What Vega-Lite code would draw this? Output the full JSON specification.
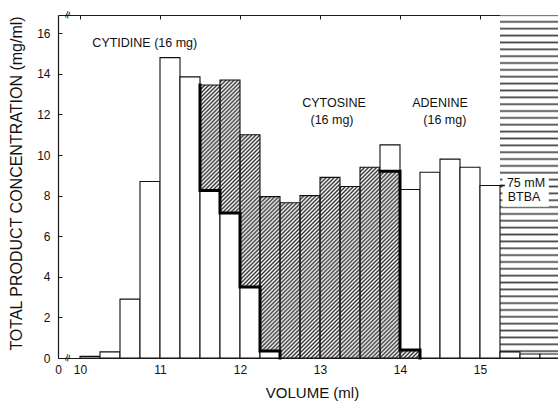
{
  "$schema": "https://vega.github.io/schema/vega-lite/v6.json",
  "width": 500,
  "height": 343,
  "autosize": {"type": "none"},
  "padding": {"left": 58, "top": 15, "right": 0, "bottom": 43},
  "background": "white",
  "config": {
    "view": {"stroke": null},
    "font": "Liberation Sans",
    "axis": {
      "labelFont": "Liberation Sans",
      "titleFont": "Liberation Sans",
      "labelColor": "#111",
      "titleColor": "#111",
      "domainColor": "#1a1a1a",
      "tickColor": "#1a1a1a",
      "grid": false,
      "zindex": 1,
      "labelFontSize": 12,
      "titleFontWeight": "normal"
    }
  },
  "datasets": {
    "fractions": [
      {"start": 10.0, "end": 10.25, "product": "Cytidine", "from": 0, "to": 0.08},
      {"start": 10.25, "end": 10.5, "product": "Cytidine", "from": 0, "to": 0.3},
      {"start": 10.5, "end": 10.75, "product": "Cytidine", "from": 0, "to": 2.9},
      {"start": 10.75, "end": 11.0, "product": "Cytidine", "from": 0, "to": 8.7},
      {"start": 11.0, "end": 11.25, "product": "Cytidine", "from": 0, "to": 14.8},
      {"start": 11.25, "end": 11.5, "product": "Cytidine", "from": 0, "to": 13.85},
      {"start": 11.5, "end": 11.75, "product": "Cytidine", "from": 0, "to": 8.25},
      {"start": 11.5, "end": 11.75, "product": "Cytosine", "from": 8.25, "to": 13.45},
      {"start": 11.75, "end": 12.0, "product": "Cytidine", "from": 0, "to": 7.15},
      {"start": 11.75, "end": 12.0, "product": "Cytosine", "from": 7.15, "to": 13.7},
      {"start": 12.0, "end": 12.25, "product": "Cytidine", "from": 0, "to": 3.5},
      {"start": 12.0, "end": 12.25, "product": "Cytosine", "from": 3.5, "to": 11.0},
      {"start": 12.25, "end": 12.5, "product": "Cytidine", "from": 0, "to": 0.35},
      {"start": 12.25, "end": 12.5, "product": "Cytosine", "from": 0.35, "to": 7.95},
      {"start": 12.5, "end": 12.75, "product": "Cytosine", "from": 0, "to": 7.65},
      {"start": 12.75, "end": 13.0, "product": "Cytosine", "from": 0, "to": 8.0},
      {"start": 13.0, "end": 13.25, "product": "Cytosine", "from": 0, "to": 8.9},
      {"start": 13.25, "end": 13.5, "product": "Cytosine", "from": 0, "to": 8.45},
      {"start": 13.5, "end": 13.75, "product": "Cytosine", "from": 0, "to": 9.4},
      {"start": 13.75, "end": 14.0, "product": "Cytosine", "from": 0, "to": 9.2},
      {"start": 13.75, "end": 14.0, "product": "Adenine", "from": 9.2, "to": 10.5},
      {"start": 14.0, "end": 14.25, "product": "Cytosine", "from": 0, "to": 0.4},
      {"start": 14.0, "end": 14.25, "product": "Adenine", "from": 0.4, "to": 8.3},
      {"start": 14.25, "end": 14.5, "product": "Adenine", "from": 0, "to": 9.15},
      {"start": 14.5, "end": 14.75, "product": "Adenine", "from": 0, "to": 9.8},
      {"start": 14.75, "end": 15.0, "product": "Adenine", "from": 0, "to": 9.4},
      {"start": 15.0, "end": 15.25, "product": "Adenine", "from": 0, "to": 8.5},
      {"start": 15.25, "end": 15.5, "product": "Adenine", "from": 0, "to": 0.3},
      {"start": 15.5, "end": 15.75, "product": "Adenine", "from": 0, "to": 0.2},
      {"start": 15.75, "end": 16.0, "product": "Adenine", "from": 0, "to": 0.2}
    ],
    "zones": [
      {"zone": "Cytosine", "start": 11.5, "end": 14.25, "from": 0, "to": 14},
      {"zone": "BTBA", "start": 15.25, "end": 16.0, "from": 0, "to": 16.9}
    ],
    "boundary": [
      {"path": "A", "step": 1, "volume": 11.5, "conc": 13.45},
      {"path": "A", "step": 2, "volume": 11.5, "conc": 8.25},
      {"path": "A", "step": 3, "volume": 11.75, "conc": 8.25},
      {"path": "A", "step": 4, "volume": 11.75, "conc": 7.15},
      {"path": "A", "step": 5, "volume": 12.0, "conc": 7.15},
      {"path": "A", "step": 6, "volume": 12.0, "conc": 3.5},
      {"path": "A", "step": 7, "volume": 12.25, "conc": 3.5},
      {"path": "A", "step": 8, "volume": 12.25, "conc": 0.35},
      {"path": "A", "step": 9, "volume": 12.5, "conc": 0.35},
      {"path": "A", "step": 10, "volume": 12.5, "conc": 0},
      {"path": "B", "step": 1, "volume": 13.75, "conc": 9.2},
      {"path": "B", "step": 2, "volume": 14.0, "conc": 9.2},
      {"path": "B", "step": 3, "volume": 14.0, "conc": 0.4},
      {"path": "B", "step": 4, "volume": 14.25, "conc": 0.4},
      {"path": "B", "step": 5, "volume": 14.25, "conc": 0}
    ],
    "labelbox": [
      {"start": 15.28, "end": 15.86, "from": 7.45, "to": 9.0}
    ],
    "leader": [
      {"start": 15.25, "end": 15.31, "level": 8.5}
    ],
    "labels": [
      {"text": "CYTIDINE (16 mg)", "volume": 10.81, "conc": 15.52},
      {"text": "CYTOSINE", "volume": 13.175, "conc": 12.56},
      {"text": "(16 mg)", "volume": 13.15, "conc": 11.72},
      {"text": "ADENINE", "volume": 14.5, "conc": 12.56},
      {"text": "(16 mg)", "volume": 14.56, "conc": 11.72},
      {"text": "75 mM", "volume": 15.575, "conc": 8.62},
      {"text": "BTBA", "volume": 15.55, "conc": 7.93}
    ],
    "breaks": [
      {"volume": 9.85, "conc": 0},
      {"volume": 9.85, "conc": 16.9}
    ]
  },
  "resolve": {"axis": {"x": "independent", "y": "independent"}},
  "layer": [
    {
      "data": {"name": "zones"},
      "transform": [{"filter": "datum.zone === 'BTBA'"}],
      "mark": {
        "type": "rect",
        "clip": true,
        "strokeWidth": 0,
        "fill": {
          "gradient": "linear", "x1": 0, "y1": 0, "x2": 0, "y2": 1,
          "stops": [
            {"offset": 0, "color": "#444"}, {"offset": 0.005, "color": "#fff"}, {"offset": 0.015, "color": "#fff"},
            {"offset": 0.02, "color": "#444"}, {"offset": 0.025, "color": "#fff"}, {"offset": 0.035, "color": "#fff"},
            {"offset": 0.04, "color": "#444"}, {"offset": 0.045, "color": "#fff"}, {"offset": 0.055, "color": "#fff"},
            {"offset": 0.06, "color": "#444"}, {"offset": 0.065, "color": "#fff"}, {"offset": 0.075, "color": "#fff"},
            {"offset": 0.08, "color": "#444"}, {"offset": 0.085, "color": "#fff"}, {"offset": 0.095, "color": "#fff"},
            {"offset": 0.1, "color": "#444"}, {"offset": 0.105, "color": "#fff"}, {"offset": 0.115, "color": "#fff"},
            {"offset": 0.12, "color": "#444"}, {"offset": 0.125, "color": "#fff"}, {"offset": 0.135, "color": "#fff"},
            {"offset": 0.14, "color": "#444"}, {"offset": 0.145, "color": "#fff"}, {"offset": 0.155, "color": "#fff"},
            {"offset": 0.16, "color": "#444"}, {"offset": 0.165, "color": "#fff"}, {"offset": 0.175, "color": "#fff"},
            {"offset": 0.18, "color": "#444"}, {"offset": 0.185, "color": "#fff"}, {"offset": 0.195, "color": "#fff"},
            {"offset": 0.2, "color": "#444"}, {"offset": 0.205, "color": "#fff"}, {"offset": 0.215, "color": "#fff"},
            {"offset": 0.22, "color": "#444"}, {"offset": 0.225, "color": "#fff"}, {"offset": 0.235, "color": "#fff"},
            {"offset": 0.24, "color": "#444"}, {"offset": 0.245, "color": "#fff"}, {"offset": 0.255, "color": "#fff"},
            {"offset": 0.26, "color": "#444"}, {"offset": 0.265, "color": "#fff"}, {"offset": 0.275, "color": "#fff"},
            {"offset": 0.28, "color": "#444"}, {"offset": 0.285, "color": "#fff"}, {"offset": 0.295, "color": "#fff"},
            {"offset": 0.3, "color": "#444"}, {"offset": 0.305, "color": "#fff"}, {"offset": 0.315, "color": "#fff"},
            {"offset": 0.32, "color": "#444"}, {"offset": 0.325, "color": "#fff"}, {"offset": 0.335, "color": "#fff"},
            {"offset": 0.34, "color": "#444"}, {"offset": 0.345, "color": "#fff"}, {"offset": 0.355, "color": "#fff"},
            {"offset": 0.36, "color": "#444"}, {"offset": 0.365, "color": "#fff"}, {"offset": 0.375, "color": "#fff"},
            {"offset": 0.38, "color": "#444"}, {"offset": 0.385, "color": "#fff"}, {"offset": 0.395, "color": "#fff"},
            {"offset": 0.4, "color": "#444"}, {"offset": 0.405, "color": "#fff"}, {"offset": 0.415, "color": "#fff"},
            {"offset": 0.42, "color": "#444"}, {"offset": 0.425, "color": "#fff"}, {"offset": 0.435, "color": "#fff"},
            {"offset": 0.44, "color": "#444"}, {"offset": 0.445, "color": "#fff"}, {"offset": 0.455, "color": "#fff"},
            {"offset": 0.46, "color": "#444"}, {"offset": 0.465, "color": "#fff"}, {"offset": 0.475, "color": "#fff"},
            {"offset": 0.48, "color": "#444"}, {"offset": 0.485, "color": "#fff"}, {"offset": 0.495, "color": "#fff"},
            {"offset": 0.5, "color": "#444"}, {"offset": 0.505, "color": "#fff"}, {"offset": 0.515, "color": "#fff"},
            {"offset": 0.52, "color": "#444"}, {"offset": 0.525, "color": "#fff"}, {"offset": 0.535, "color": "#fff"},
            {"offset": 0.54, "color": "#444"}, {"offset": 0.545, "color": "#fff"}, {"offset": 0.555, "color": "#fff"},
            {"offset": 0.56, "color": "#444"}, {"offset": 0.565, "color": "#fff"}, {"offset": 0.575, "color": "#fff"},
            {"offset": 0.58, "color": "#444"}, {"offset": 0.585, "color": "#fff"}, {"offset": 0.595, "color": "#fff"},
            {"offset": 0.6, "color": "#444"}, {"offset": 0.605, "color": "#fff"}, {"offset": 0.615, "color": "#fff"},
            {"offset": 0.62, "color": "#444"}, {"offset": 0.625, "color": "#fff"}, {"offset": 0.635, "color": "#fff"},
            {"offset": 0.64, "color": "#444"}, {"offset": 0.645, "color": "#fff"}, {"offset": 0.655, "color": "#fff"},
            {"offset": 0.66, "color": "#444"}, {"offset": 0.665, "color": "#fff"}, {"offset": 0.675, "color": "#fff"},
            {"offset": 0.68, "color": "#444"}, {"offset": 0.685, "color": "#fff"}, {"offset": 0.695, "color": "#fff"},
            {"offset": 0.7, "color": "#444"}, {"offset": 0.705, "color": "#fff"}, {"offset": 0.715, "color": "#fff"},
            {"offset": 0.72, "color": "#444"}, {"offset": 0.725, "color": "#fff"}, {"offset": 0.735, "color": "#fff"},
            {"offset": 0.74, "color": "#444"}, {"offset": 0.745, "color": "#fff"}, {"offset": 0.755, "color": "#fff"},
            {"offset": 0.76, "color": "#444"}, {"offset": 0.765, "color": "#fff"}, {"offset": 0.775, "color": "#fff"},
            {"offset": 0.78, "color": "#444"}, {"offset": 0.785, "color": "#fff"}, {"offset": 0.795, "color": "#fff"},
            {"offset": 0.8, "color": "#444"}, {"offset": 0.805, "color": "#fff"}, {"offset": 0.815, "color": "#fff"},
            {"offset": 0.82, "color": "#444"}, {"offset": 0.825, "color": "#fff"}, {"offset": 0.835, "color": "#fff"},
            {"offset": 0.84, "color": "#444"}, {"offset": 0.845, "color": "#fff"}, {"offset": 0.855, "color": "#fff"},
            {"offset": 0.86, "color": "#444"}, {"offset": 0.865, "color": "#fff"}, {"offset": 0.875, "color": "#fff"},
            {"offset": 0.88, "color": "#444"}, {"offset": 0.885, "color": "#fff"}, {"offset": 0.895, "color": "#fff"},
            {"offset": 0.9, "color": "#444"}, {"offset": 0.905, "color": "#fff"}, {"offset": 0.915, "color": "#fff"},
            {"offset": 0.92, "color": "#444"}, {"offset": 0.925, "color": "#fff"}, {"offset": 0.935, "color": "#fff"},
            {"offset": 0.94, "color": "#444"}, {"offset": 0.945, "color": "#fff"}, {"offset": 0.955, "color": "#fff"},
            {"offset": 0.96, "color": "#444"}, {"offset": 0.965, "color": "#fff"}, {"offset": 0.975, "color": "#fff"},
            {"offset": 0.98, "color": "#444"}, {"offset": 0.985, "color": "#fff"}, {"offset": 0.995, "color": "#fff"},
            {"offset": 1, "color": "#444"}
          ]
        }
      },
      "encoding": {
        "x": {
          "field": "start", "type": "quantitative",
          "scale": {"domain": [9.725, 15.975], "nice": false, "zero": false},
          "axis": {
            "orient": "bottom",
            "values": [9.725, 10, 11, 12, 13, 14, 15],
            "labelExpr": "datum.value < 9.9 ? '0' : datum.label",
            "labelFlush": false,
            "ticks": false,
            "labelPadding": 6,
            "domainWidth": 1.2,
            "title": "VOLUME (ml)",
            "titleFontSize": 15,
            "titleX": 254,
            "titleY": 39,
            "titleAlign": "center",
            "titleBaseline": "alphabetic"
          }
        },
        "x2": {"field": "end"},
        "y": {
          "field": "from", "type": "quantitative",
          "scale": {"domain": [0, 16.9], "nice": false, "zero": false},
          "axis": {
            "orient": "left",
            "values": [0, 2, 4, 6, 8, 10, 12, 14, 16],
            "tickSize": -4,
            "labelPadding": 12,
            "domainWidth": 1.2,
            "title": "TOTAL PRODUCT CONCENTRATION (mg/ml)",
            "titleFontSize": 16,
            "titleAngle": 270,
            "titleX": -42,
            "titleY": 168,
            "titleAlign": "center",
            "titleBaseline": "middle"
          }
        },
        "y2": {"field": "to"}
      }
    },
    {
      "data": {"name": "zones"},
      "transform": [{"filter": "datum.zone === 'Cytosine'"}],
      "mark": {
        "type": "rect",
        "strokeWidth": 0,
        "fill": {
          "gradient": "linear", "x1": 0, "y1": 0, "x2": 0.8587, "y2": 1.1094,
          "stops": [
            {"offset": 0, "color": "#333"}, {"offset": 0.004, "color": "#fff"}, {"offset": 0.008, "color": "#333"}, {"offset": 0.012, "color": "#fff"}, {"offset": 0.016, "color": "#333"}, {"offset": 0.02, "color": "#fff"}, {"offset": 0.024, "color": "#333"}, {"offset": 0.028, "color": "#fff"}, {"offset": 0.032, "color": "#333"}, {"offset": 0.036, "color": "#fff"},
            {"offset": 0.04, "color": "#333"}, {"offset": 0.044, "color": "#fff"}, {"offset": 0.048, "color": "#333"}, {"offset": 0.052, "color": "#fff"}, {"offset": 0.056, "color": "#333"}, {"offset": 0.06, "color": "#fff"}, {"offset": 0.064, "color": "#333"}, {"offset": 0.068, "color": "#fff"}, {"offset": 0.072, "color": "#333"}, {"offset": 0.076, "color": "#fff"},
            {"offset": 0.08, "color": "#333"}, {"offset": 0.084, "color": "#fff"}, {"offset": 0.088, "color": "#333"}, {"offset": 0.092, "color": "#fff"}, {"offset": 0.096, "color": "#333"}, {"offset": 0.1, "color": "#fff"}, {"offset": 0.104, "color": "#333"}, {"offset": 0.108, "color": "#fff"}, {"offset": 0.112, "color": "#333"}, {"offset": 0.116, "color": "#fff"},
            {"offset": 0.12, "color": "#333"}, {"offset": 0.124, "color": "#fff"}, {"offset": 0.128, "color": "#333"}, {"offset": 0.132, "color": "#fff"}, {"offset": 0.136, "color": "#333"}, {"offset": 0.14, "color": "#fff"}, {"offset": 0.144, "color": "#333"}, {"offset": 0.148, "color": "#fff"}, {"offset": 0.152, "color": "#333"}, {"offset": 0.156, "color": "#fff"},
            {"offset": 0.16, "color": "#333"}, {"offset": 0.164, "color": "#fff"}, {"offset": 0.168, "color": "#333"}, {"offset": 0.172, "color": "#fff"}, {"offset": 0.176, "color": "#333"}, {"offset": 0.18, "color": "#fff"}, {"offset": 0.184, "color": "#333"}, {"offset": 0.188, "color": "#fff"}, {"offset": 0.192, "color": "#333"}, {"offset": 0.196, "color": "#fff"},
            {"offset": 0.2, "color": "#333"}, {"offset": 0.204, "color": "#fff"}, {"offset": 0.208, "color": "#333"}, {"offset": 0.212, "color": "#fff"}, {"offset": 0.216, "color": "#333"}, {"offset": 0.22, "color": "#fff"}, {"offset": 0.224, "color": "#333"}, {"offset": 0.228, "color": "#fff"}, {"offset": 0.232, "color": "#333"}, {"offset": 0.236, "color": "#fff"},
            {"offset": 0.24, "color": "#333"}, {"offset": 0.244, "color": "#fff"}, {"offset": 0.248, "color": "#333"}, {"offset": 0.252, "color": "#fff"}, {"offset": 0.256, "color": "#333"}, {"offset": 0.26, "color": "#fff"}, {"offset": 0.264, "color": "#333"}, {"offset": 0.268, "color": "#fff"}, {"offset": 0.272, "color": "#333"}, {"offset": 0.276, "color": "#fff"},
            {"offset": 0.28, "color": "#333"}, {"offset": 0.284, "color": "#fff"}, {"offset": 0.288, "color": "#333"}, {"offset": 0.292, "color": "#fff"}, {"offset": 0.296, "color": "#333"}, {"offset": 0.3, "color": "#fff"}, {"offset": 0.304, "color": "#333"}, {"offset": 0.308, "color": "#fff"}, {"offset": 0.312, "color": "#333"}, {"offset": 0.316, "color": "#fff"},
            {"offset": 0.32, "color": "#333"}, {"offset": 0.324, "color": "#fff"}, {"offset": 0.328, "color": "#333"}, {"offset": 0.332, "color": "#fff"}, {"offset": 0.336, "color": "#333"}, {"offset": 0.34, "color": "#fff"}, {"offset": 0.344, "color": "#333"}, {"offset": 0.348, "color": "#fff"}, {"offset": 0.352, "color": "#333"}, {"offset": 0.356, "color": "#fff"},
            {"offset": 0.36, "color": "#333"}, {"offset": 0.364, "color": "#fff"}, {"offset": 0.368, "color": "#333"}, {"offset": 0.372, "color": "#fff"}, {"offset": 0.376, "color": "#333"}, {"offset": 0.38, "color": "#fff"}, {"offset": 0.384, "color": "#333"}, {"offset": 0.388, "color": "#fff"}, {"offset": 0.392, "color": "#333"}, {"offset": 0.396, "color": "#fff"},
            {"offset": 0.4, "color": "#333"}, {"offset": 0.404, "color": "#fff"}, {"offset": 0.408, "color": "#333"}, {"offset": 0.412, "color": "#fff"}, {"offset": 0.416, "color": "#333"}, {"offset": 0.42, "color": "#fff"}, {"offset": 0.424, "color": "#333"}, {"offset": 0.428, "color": "#fff"}, {"offset": 0.432, "color": "#333"}, {"offset": 0.436, "color": "#fff"},
            {"offset": 0.44, "color": "#333"}, {"offset": 0.444, "color": "#fff"}, {"offset": 0.448, "color": "#333"}, {"offset": 0.452, "color": "#fff"}, {"offset": 0.456, "color": "#333"}, {"offset": 0.46, "color": "#fff"}, {"offset": 0.464, "color": "#333"}, {"offset": 0.468, "color": "#fff"}, {"offset": 0.472, "color": "#333"}, {"offset": 0.476, "color": "#fff"},
            {"offset": 0.48, "color": "#333"}, {"offset": 0.484, "color": "#fff"}, {"offset": 0.488, "color": "#333"}, {"offset": 0.492, "color": "#fff"}, {"offset": 0.496, "color": "#333"}, {"offset": 0.5, "color": "#fff"}, {"offset": 0.504, "color": "#333"}, {"offset": 0.508, "color": "#fff"}, {"offset": 0.512, "color": "#333"}, {"offset": 0.516, "color": "#fff"},
            {"offset": 0.52, "color": "#333"}, {"offset": 0.524, "color": "#fff"}, {"offset": 0.528, "color": "#333"}, {"offset": 0.532, "color": "#fff"}, {"offset": 0.536, "color": "#333"}, {"offset": 0.54, "color": "#fff"}, {"offset": 0.544, "color": "#333"}, {"offset": 0.548, "color": "#fff"}, {"offset": 0.552, "color": "#333"}, {"offset": 0.556, "color": "#fff"},
            {"offset": 0.56, "color": "#333"}, {"offset": 0.564, "color": "#fff"}, {"offset": 0.568, "color": "#333"}, {"offset": 0.572, "color": "#fff"}, {"offset": 0.576, "color": "#333"}, {"offset": 0.58, "color": "#fff"}, {"offset": 0.584, "color": "#333"}, {"offset": 0.588, "color": "#fff"}, {"offset": 0.592, "color": "#333"}, {"offset": 0.596, "color": "#fff"},
            {"offset": 0.6, "color": "#333"}, {"offset": 0.604, "color": "#fff"}, {"offset": 0.608, "color": "#333"}, {"offset": 0.612, "color": "#fff"}, {"offset": 0.616, "color": "#333"}, {"offset": 0.62, "color": "#fff"}, {"offset": 0.624, "color": "#333"}, {"offset": 0.628, "color": "#fff"}, {"offset": 0.632, "color": "#333"}, {"offset": 0.636, "color": "#fff"},
            {"offset": 0.64, "color": "#333"}, {"offset": 0.644, "color": "#fff"}, {"offset": 0.648, "color": "#333"}, {"offset": 0.652, "color": "#fff"}, {"offset": 0.656, "color": "#333"}, {"offset": 0.66, "color": "#fff"}, {"offset": 0.664, "color": "#333"}, {"offset": 0.668, "color": "#fff"}, {"offset": 0.672, "color": "#333"}, {"offset": 0.676, "color": "#fff"},
            {"offset": 0.68, "color": "#333"}, {"offset": 0.684, "color": "#fff"}, {"offset": 0.688, "color": "#333"}, {"offset": 0.692, "color": "#fff"}, {"offset": 0.696, "color": "#333"}, {"offset": 0.7, "color": "#fff"}, {"offset": 0.704, "color": "#333"}, {"offset": 0.708, "color": "#fff"}, {"offset": 0.712, "color": "#333"}, {"offset": 0.716, "color": "#fff"},
            {"offset": 0.72, "color": "#333"}, {"offset": 0.724, "color": "#fff"}, {"offset": 0.728, "color": "#333"}, {"offset": 0.732, "color": "#fff"}, {"offset": 0.736, "color": "#333"}, {"offset": 0.74, "color": "#fff"}, {"offset": 0.744, "color": "#333"}, {"offset": 0.748, "color": "#fff"}, {"offset": 0.752, "color": "#333"}, {"offset": 0.756, "color": "#fff"},
            {"offset": 0.76, "color": "#333"}, {"offset": 0.764, "color": "#fff"}, {"offset": 0.768, "color": "#333"}, {"offset": 0.772, "color": "#fff"}, {"offset": 0.776, "color": "#333"}, {"offset": 0.78, "color": "#fff"}, {"offset": 0.784, "color": "#333"}, {"offset": 0.788, "color": "#fff"}, {"offset": 0.792, "color": "#333"}, {"offset": 0.796, "color": "#fff"},
            {"offset": 0.8, "color": "#333"}, {"offset": 0.804, "color": "#fff"}, {"offset": 0.808, "color": "#333"}, {"offset": 0.812, "color": "#fff"}, {"offset": 0.816, "color": "#333"}, {"offset": 0.82, "color": "#fff"}, {"offset": 0.824, "color": "#333"}, {"offset": 0.828, "color": "#fff"}, {"offset": 0.832, "color": "#333"}, {"offset": 0.836, "color": "#fff"},
            {"offset": 0.84, "color": "#333"}, {"offset": 0.844, "color": "#fff"}, {"offset": 0.848, "color": "#333"}, {"offset": 0.852, "color": "#fff"}, {"offset": 0.856, "color": "#333"}, {"offset": 0.86, "color": "#fff"}, {"offset": 0.864, "color": "#333"}, {"offset": 0.868, "color": "#fff"}, {"offset": 0.872, "color": "#333"}, {"offset": 0.876, "color": "#fff"},
            {"offset": 0.88, "color": "#333"}, {"offset": 0.884, "color": "#fff"}, {"offset": 0.888, "color": "#333"}, {"offset": 0.892, "color": "#fff"}, {"offset": 0.896, "color": "#333"}, {"offset": 0.9, "color": "#fff"}, {"offset": 0.904, "color": "#333"}, {"offset": 0.908, "color": "#fff"}, {"offset": 0.912, "color": "#333"}, {"offset": 0.916, "color": "#fff"},
            {"offset": 0.92, "color": "#333"}, {"offset": 0.924, "color": "#fff"}, {"offset": 0.928, "color": "#333"}, {"offset": 0.932, "color": "#fff"}, {"offset": 0.936, "color": "#333"}, {"offset": 0.94, "color": "#fff"}, {"offset": 0.944, "color": "#333"}, {"offset": 0.948, "color": "#fff"}, {"offset": 0.952, "color": "#333"}, {"offset": 0.956, "color": "#fff"},
            {"offset": 0.96, "color": "#333"}, {"offset": 0.964, "color": "#fff"}, {"offset": 0.968, "color": "#333"}, {"offset": 0.972, "color": "#fff"}, {"offset": 0.976, "color": "#333"}, {"offset": 0.98, "color": "#fff"}, {"offset": 0.984, "color": "#333"}, {"offset": 0.988, "color": "#fff"}, {"offset": 0.992, "color": "#333"}, {"offset": 0.996, "color": "#fff"},
            {"offset": 1, "color": "#333"}
          ]
        }
      },
      "encoding": {
        "x": {
          "field": "start", "type": "quantitative",
          "scale": {"domain": [9.725, 15.975], "nice": false, "zero": false},
          "axis": {
            "orient": "top",
            "values": [10, 11, 12, 13, 14, 15],
            "labels": false,
            "tickSize": -4,
            "domainWidth": 1.2,
            "title": null
          }
        },
        "x2": {"field": "end"},
        "y": {"field": "from", "type": "quantitative", "scale": {"domain": [0, 16.9], "nice": false, "zero": false}, "axis": null},
        "y2": {"field": "to"}
      }
    },
    {
      "data": {"name": "fractions"},
      "transform": [{"filter": "datum.product === 'Cytosine'"}],
      "mark": {"type": "rect", "fill": "#fff", "strokeWidth": 0},
      "encoding": {
        "x": {"field": "start", "type": "quantitative", "scale": {"domain": [9.725, 15.975], "nice": false, "zero": false}, "axis": null},
        "x2": {"field": "end"},
        "y": {"field": "to", "type": "quantitative", "scale": {"domain": [0, 16.9], "nice": false, "zero": false}, "axis": null},
        "y2": {"datum": 14.4}
      }
    },
    {
      "data": {"name": "fractions"},
      "mark": {"type": "rect", "clip": true, "stroke": "#111", "strokeWidth": 1.1},
      "encoding": {
        "x": {"field": "start", "type": "quantitative", "scale": {"domain": [9.725, 15.975], "nice": false, "zero": false}, "axis": null},
        "x2": {"field": "end"},
        "y": {"field": "from", "type": "quantitative", "scale": {"domain": [0, 16.9], "nice": false, "zero": false}, "axis": null},
        "y2": {"field": "to"},
        "fill": {
          "field": "product", "type": "nominal",
          "scale": {"domain": ["Cytidine", "Cytosine", "Adenine"], "range": ["#ffffff", "transparent", "#ffffff"]},
          "legend": null
        }
      }
    },
    {
      "data": {"name": "boundary"},
      "mark": {"type": "line", "color": "#000", "strokeWidth": 3, "strokeJoin": "miter", "strokeCap": "square"},
      "encoding": {
        "x": {"field": "volume", "type": "quantitative", "scale": {"domain": [9.725, 15.975], "nice": false, "zero": false}, "axis": null},
        "y": {"field": "conc", "type": "quantitative", "scale": {"domain": [0, 16.9], "nice": false, "zero": false}, "axis": null},
        "detail": {"field": "path", "type": "nominal"},
        "order": {"field": "step", "type": "quantitative"}
      }
    },
    {
      "data": {"name": "labelbox"},
      "mark": {"type": "rect", "fill": "#fff", "strokeWidth": 0},
      "encoding": {
        "x": {"field": "start", "type": "quantitative", "scale": {"domain": [9.725, 15.975], "nice": false, "zero": false}, "axis": null},
        "x2": {"field": "end"},
        "y": {"field": "from", "type": "quantitative", "scale": {"domain": [0, 16.9], "nice": false, "zero": false}, "axis": null},
        "y2": {"field": "to"}
      }
    },
    {
      "data": {"name": "leader"},
      "mark": {"type": "rule", "color": "#111", "strokeWidth": 1.6},
      "encoding": {
        "x": {"field": "start", "type": "quantitative", "scale": {"domain": [9.725, 15.975], "nice": false, "zero": false}, "axis": null},
        "x2": {"field": "end"},
        "y": {"field": "level", "type": "quantitative", "scale": {"domain": [0, 16.9], "nice": false, "zero": false}, "axis": null}
      }
    },
    {
      "data": {"name": "labels"},
      "mark": {"type": "text", "font": "Liberation Sans", "fontSize": 12.5, "color": "#111", "align": "center", "baseline": "middle"},
      "encoding": {
        "x": {"field": "volume", "type": "quantitative", "scale": {"domain": [9.725, 15.975], "nice": false, "zero": false}, "axis": null},
        "y": {"field": "conc", "type": "quantitative", "scale": {"domain": [0, 16.9], "nice": false, "zero": false}, "axis": null},
        "text": {"field": "text", "type": "nominal"}
      }
    },
    {
      "data": {"name": "breaks"},
      "mark": {"type": "text", "text": "≈", "font": "DejaVu Sans", "fontSize": 11, "angle": 290, "color": "#111", "align": "center", "baseline": "middle"},
      "encoding": {
        "x": {"field": "volume", "type": "quantitative", "scale": {"domain": [9.725, 15.975], "nice": false, "zero": false}, "axis": null},
        "y": {"field": "conc", "type": "quantitative", "scale": {"domain": [0, 16.9], "nice": false, "zero": false}, "axis": null}
      }
    }
  ]
}
